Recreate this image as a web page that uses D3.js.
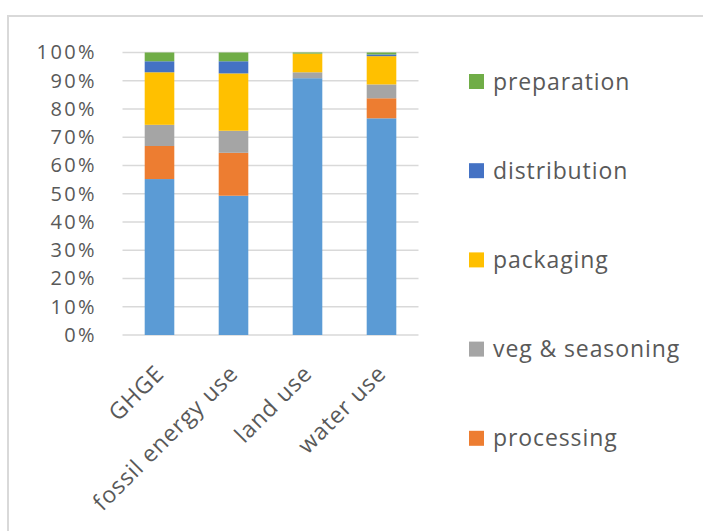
<!DOCTYPE html>
<html><head><meta charset="utf-8">
<script src="https://cdn.jsdelivr.net/npm/d3@7"></script>
<style>
html,body{margin:0;padding:0;background:#fff;}
text{font-family:"Open Sans",sans-serif;fill:#595959;}
</style></head>
<body>
<svg id="chart" width="703" height="531"></svg>
<script>
const categories = ["GHGE", "fossil energy use", "land use", "water use"];
const seriesNames = ["production", "processing", "veg & seasoning", "packaging", "distribution", "preparation"];
const production   = [55.2, 49.3, 90.9, 76.7];
const processing   = [11.7, 15.2, 0.0, 7.1];
const vegSeasoning = [7.5, 7.8, 2.1, 4.9];
const packaging    = [18.6, 20.3, 6.6, 10.0];
const distribution = [3.9, 4.3, 0.0, 0.6];
const preparation  = [3.1, 3.1, 0.4, 0.7];
const legendNames = ["preparation", "distribution", "packaging", "veg & seasoning", "processing"];
const colors = ["#5b9bd5", "#ed7d31", "#a5a5a5", "#ffc000", "#4472c4", "#70ad47"];
const yTicks = [0, 0.1, 0.2, 0.3, 0.4, 0.5, 0.6, 0.7, 0.8, 0.9, 1.0];

const seriesValues = [production, processing, vegSeasoning, packaging, distribution, preparation];
const rows = categories.map((c, i) => {
  const r = {cat: c};
  seriesNames.forEach((s, j) => r[s] = seriesValues[j][i]);
  return r;
});

const FS = 23, LS = "0.9px";
const svg = d3.select("#chart");
// frame
svg.append("path").attr("d", "M8,531 V16 H703").attr("fill", "none")
  .attr("stroke", "#d9d9d9").attr("stroke-width", 2);

const x = d3.scaleBand().domain(categories).range([122.5, 418.5]).paddingInner(0.6).paddingOuter(0.3);
const y = d3.scaleLinear().domain([0, 1]).range([335, 52.5]);
const color = d3.scaleOrdinal().domain(seriesNames).range(colors);

// gridlines
svg.append("g").selectAll("line").data(yTicks).join("line")
  .attr("x1", 122.5).attr("x2", 418.5)
  .attr("y1", d => y(d)).attr("y2", d => y(d))
  .attr("stroke", "#d9d9d9").attr("stroke-width", 1.5);

const stack = d3.stack().keys(seriesNames).offset(d3.stackOffsetExpand);
const stacked = stack(rows);

svg.append("g").selectAll("g").data(stacked).join("g")
  .attr("fill", d => color(d.key))
  .selectAll("rect").data(d => d).join("rect")
  .attr("x", d => x(d.data.cat))
  .attr("width", x.bandwidth())
  .attr("y", d => y(d[1]))
  .attr("height", d => Math.max(0, y(d[0]) - y(d[1])));

// y axis labels
const yAxis = d3.axisLeft(y).tickValues(yTicks).tickFormat(d3.format(".0%")).tickSize(0).tickPadding(0);
const ya = svg.append("g").attr("transform", "translate(97,0)").call(yAxis);
ya.select(".domain").remove();
ya.selectAll("text").attr("font-size", 20).attr("letter-spacing", "2.4px")
  .attr("font-family", "Open Sans, sans-serif").attr("fill", "#595959");

// x axis labels
const xAxis = d3.axisBottom(x).tickSize(0).tickPadding(0);
const xa = svg.append("g").attr("transform", "translate(0,335)").call(xAxis);
xa.select(".domain").remove();
xa.selectAll("text")
  .attr("font-size", FS).attr("letter-spacing", LS)
  .attr("font-family", "Open Sans, sans-serif").attr("fill", "#595959")
  .attr("text-anchor", "end").attr("dy", 0).attr("y", 0)
  .attr("transform", "translate(6,40) rotate(-45)");

// legend
const lg = svg.append("g").selectAll("g").data(legendNames).join("g")
  .attr("transform", (d, i) => `translate(469,${81.5 + i * 89.2})`);
lg.append("rect").attr("x", 0).attr("y", -7.5).attr("width", 15).attr("height", 15)
  .attr("fill", d => color(d));
lg.append("text").attr("x", 24).attr("y", 0).attr("dy", "0.35em")
  .attr("font-size", FS).attr("letter-spacing", LS).text(d => d);
</script>
</body></html>
